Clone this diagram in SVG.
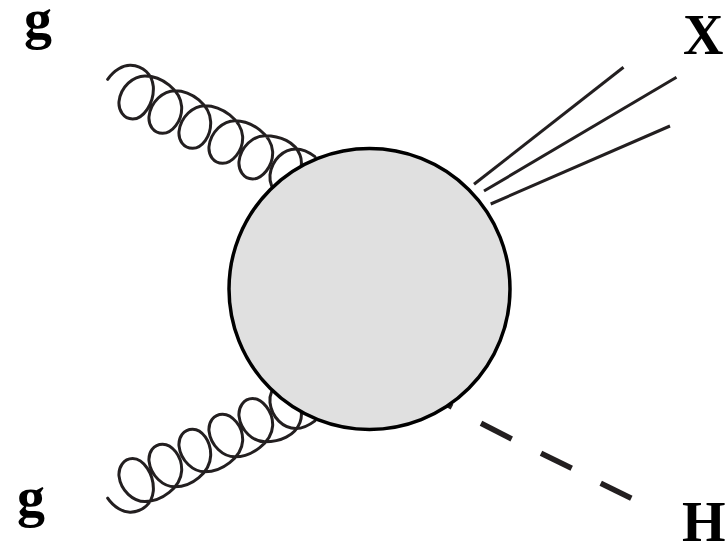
<svg xmlns="http://www.w3.org/2000/svg" width="727" height="546" viewBox="0 0 727 546">
<style>
.lbl{font-family:"Liberation Serif",serif;font-weight:bold;font-size:56px;fill:#000}
.gluon{fill:none;stroke:#231f20;stroke-width:9;stroke-linecap:round;stroke-linejoin:round}
.jet{fill:none;stroke:#231f20;stroke-width:3;stroke-linecap:butt}
.dash{fill:none;stroke:#231f20;stroke-width:5.5}
</style>
<defs>
<path id="coil" d="M53,88 C72,60 100,45 122,46 C160,48 186,72 190,110 C193,160 160,207 128,207 C100,207 85,180 87,155 C92,110 130,78 165,78 C215,78 272,120 275,170 C277,215 245,250 218,250 C190,250 175,225 177,200 C182,155 220,122 255,122 C305,122 360,165 362,215 C364,260 335,295 308,295 C280,295 265,270 267,245 C272,200 310,167 345,167 C395,167 455,210 458,260 C460,305 425,340 398,340 C370,340 355,315 357,290 C362,245 400,212 435,212 C485,212 545,255 548,305 C550,350 515,387 488,387 C460,387 445,360 447,335 C452,290 490,257 525,257 C570,257 615,275 630,315 C634,325 635,335 634,345"/>
<path id="coilend" d="M675,320 C655,305 635,297 618,297 C580,297 545,330 540,375 C539,387 540,397 545,408"/>
</defs>
<g id="connectors">
<g id="gluon-top" class="gluon" transform="translate(90,50) scale(0.3333)"><use href="#coil"/><use href="#coilend"/></g>
<g id="gluon-bottom" class="gluon" transform="translate(90,527.5) scale(0.3333,-0.3333)"><use href="#coil"/><use href="#coilend"/></g>
<g id="jets" class="jet">
<line x1="474" y1="184.3" x2="623.5" y2="67.3"/>
<line x1="484" y1="191" x2="676.5" y2="77.3"/>
<line x1="490.7" y1="204" x2="670" y2="126"/>
</g>
<g id="higgs" class="dash">
<line x1="443" y1="402" x2="452" y2="407"/>
<line x1="481" y1="423.3" x2="511.7" y2="439"/>
<line x1="541" y1="453.3" x2="571.7" y2="468.3"/>
<line x1="600.7" y1="483.3" x2="631.3" y2="498.3"/>
</g>
</g>
<g id="blob"><circle cx="369.5" cy="289" r="140.5" fill="#e0e0e0" stroke="#000" stroke-width="3.5"/></g>
<g id="label-g-top"><text class="lbl" x="24" y="38">g</text></g>
<g id="label-g-bottom"><text class="lbl" x="17" y="516">g</text></g>
<g id="label-X"><text class="lbl" x="683" y="54">X</text></g>
<g id="label-H"><text class="lbl" x="682" y="541">H</text></g>
</svg>
